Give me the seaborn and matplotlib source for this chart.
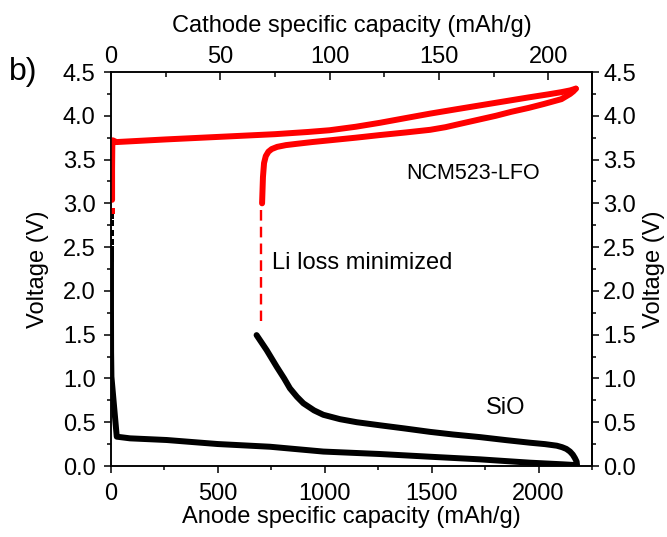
import numpy as np
import pandas as pd
import matplotlib
matplotlib.use("Agg")
import matplotlib.pyplot as plt
import seaborn as sns
from matplotlib.ticker import MultipleLocator, FormatStrFormatter

sns.set_theme(style="ticks", rc={
    "axes.edgecolor": "black", "axes.labelcolor": "black",
    "xtick.color": "black", "ytick.color": "black", "text.color": "black",
    "axes.linewidth": 1.1,
})
plt.rcParams['font.family'] = ['Liberation Sans', 'DejaVu Sans']

# ---------------- data ----------------
# SiO anode, lithiation (bottom axis, mAh/g)
anode_lith_x = [0, 0, 0.5, 2, 27, 89, 260, 499, 744, 993, 1258, 1492, 1726, 1960, 2115, 2178]
anode_lith_v = [2.35, 1.8, 1.3, 1.02, 0.335, 0.316, 0.297, 0.251, 0.22, 0.165, 0.137, 0.106, 0.076, 0.038, 0.019, 0.01]
# sparse first points of anode lithiation
anode_pts_x = [0, 0, 0, 0, 0, 0, 0]
anode_pts_v = [2.85, 2.77, 2.66, 2.56, 2.48, 2.41, 2.37]
# SiO anode, delithiation
anode_delith_x = [2180, 2178, 2170, 2160, 2147, 2130, 2110, 2085, 2030, 1960, 1850, 1726, 1600,
                  1492, 1370, 1258, 1150, 1071, 993, 950, 900, 870, 837, 810, 775, 728, 681]
anode_delith_v = [0.0, 0.05, 0.09, 0.13, 0.165, 0.195, 0.215, 0.232, 0.25, 0.266, 0.295, 0.33, 0.36,
                  0.39, 0.43, 0.465, 0.5, 0.535, 0.585, 0.635, 0.716, 0.79, 0.887, 1.0, 1.134, 1.324, 1.495]

# NCM523-LFO cathode, charge (top axis, mAh/g)
cath_ch_x = [0.5, 0.5, 0.6, 0.8, 2.5, 25, 50, 75, 90, 100, 112, 123, 135, 146, 158, 169, 180, 191, 200, 206, 210, 212.6]
cath_ch_v = [3.04, 3.4, 3.65, 3.72, 3.70, 3.73, 3.76, 3.79, 3.815, 3.835, 3.875, 3.92, 3.975, 4.025, 4.075, 4.12, 4.165, 4.21, 4.245, 4.27, 4.29, 4.31]
cath_pt_x = [0.5]
cath_pt_v = [2.91]
# cathode, discharge
cath_dis_x = [212.6, 211.5, 210, 206, 198, 191, 183, 176, 168, 160, 153, 146, 135, 123, 112, 100, 92, 85, 80, 76, 73.5, 72, 70.8, 70, 69.5, 69.1]
cath_dis_v = [4.31, 4.28, 4.25, 4.19, 4.135, 4.09, 4.045, 4.0, 3.955, 3.91, 3.87, 3.84, 3.81, 3.78, 3.75, 3.72, 3.70, 3.68, 3.665, 3.645, 3.62, 3.59, 3.54, 3.46, 3.3, 3.0]
# Li loss bridge (dashed)
bridge_x = [68.7, 68.7]
bridge_v = [2.92, 1.66]

x_bottom_ticks = [0, 500, 1000, 1500, 2000]
x_top_ticks = [0, 50, 100, 150, 200]
y_ticks = [0.0, 0.5, 1.0, 1.5, 2.0, 2.5, 3.0, 3.5, 4.0, 4.5]

# ---------------- figure ----------------
fig = plt.figure(figsize=(6.67, 5.37), dpi=100)
ax = fig.add_axes([0.1664, 0.1322, 0.7212, 0.7337])

RED = "#ff0000"
LW = 4.3
TICK_FS = 17

sns.lineplot(x=anode_lith_x, y=anode_lith_v, sort=False, estimator=None, ax=ax,
             color="black", lw=LW)
sns.lineplot(x=anode_delith_x, y=anode_delith_v, sort=False, estimator=None, ax=ax,
             color="black", lw=LW)
sns.scatterplot(x=anode_pts_x, y=anode_pts_v, ax=ax, color="black", marker="s",
                s=16, linewidth=0)

ax.set_xlim(0, 2250)
ax.set_ylim(0, 4.5)
ax.set_xticks(x_bottom_ticks)
ax.set_yticks(y_ticks)
ax.xaxis.set_minor_locator(MultipleLocator(250))
ax.yaxis.set_minor_locator(MultipleLocator(0.25))
ax.yaxis.set_major_formatter(FormatStrFormatter("%.1f"))
ax.tick_params(which="major", direction="out", length=5, width=1.1, labelsize=TICK_FS, pad=6)
ax.tick_params(axis="x", which="major", pad=7)
ax.tick_params(which="minor", direction="out", length=3, width=1.1)
ax.set_xlabel("Anode specific capacity (mAh/g)", fontsize=17, labelpad=1)
ax.set_ylabel("Voltage (V)", fontsize=17, labelpad=10)

axt = ax.twiny()
sns.lineplot(x=cath_ch_x, y=cath_ch_v, sort=False, estimator=None, ax=axt,
             color=RED, lw=LW)
sns.lineplot(x=cath_dis_x, y=cath_dis_v, sort=False, estimator=None, ax=axt,
             color=RED, lw=LW)
sns.scatterplot(x=cath_pt_x, y=cath_pt_v, ax=axt, color=RED, marker="s", s=22, linewidth=0)
axt.plot(bridge_x, bridge_v, color=RED, lw=1.7, dashes=(4.5, 2.6))
axt.set_xlim(0, 220)
axt.set_ylim(0, 4.5)
axt.set_xticks(x_top_ticks)
axt.xaxis.set_minor_locator(MultipleLocator(25))
axt.tick_params(which="major", direction="in", length=6, width=1.1, labelsize=TICK_FS, pad=3)
axt.tick_params(which="minor", direction="in", length=3.5, width=1.1)
axt.set_xlabel("Cathode specific capacity (mAh/g)", fontsize=17, labelpad=10)

sec = ax.secondary_yaxis("right")
sec.set_yticks(y_ticks)
sec.yaxis.set_minor_locator(MultipleLocator(0.25))
sec.yaxis.set_major_formatter(FormatStrFormatter("%.1f"))
sec.tick_params(which="major", direction="out", length=5, width=1.1, labelsize=TICK_FS, pad=3)
sec.tick_params(which="minor", direction="out", length=3, width=1.1)
sec.set_ylabel("Voltage (V)", fontsize=17, labelpad=5)

ax.text(1383, 3.345, "NCM523-LFO", fontsize=15.5, ha="left", va="center")
ax.text(752, 2.317, "Li loss minimized", fontsize=17, ha="left", va="center")
ax.text(1847, 0.662, "SiO", fontsize=17, ha="center", va="center")
fig.text(0.014, 0.866, "b)", fontsize=23, ha="left", va="center")

fig.savefig("out.png", dpi=100)
